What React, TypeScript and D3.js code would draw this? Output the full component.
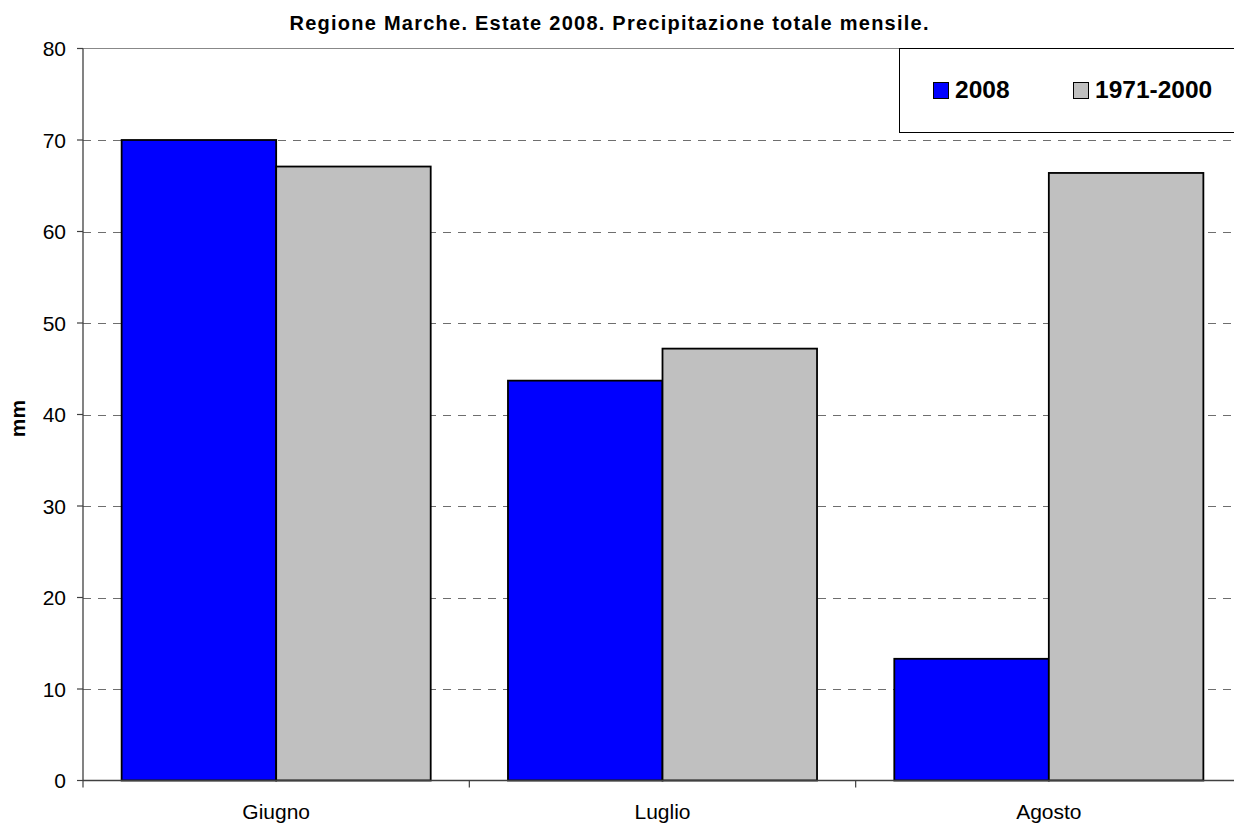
import React, { useEffect, useRef } from "react";
import * as d3 from "d3";

const months = ["Giugno", "Luglio", "Agosto"];
const series = ["2008", "1971-2000"];
const rain2008 = [70.0, 43.7, 13.3];
const rainNormal = [67.1, 47.2, 66.4];
const yTicks = [0, 10, 20, 30, 40, 50, 60, 70, 80];
const colors = ["#0000ff", "#c0c0c0"];

const W = 1234;
const H = 825;
const left = 83;
const right = 1242;
const top = 48.5;
const bottom = 780.5;
const font = "'Liberation Sans', Arial, sans-serif";

const App = () => {
  const ref = useRef(null);

  useEffect(() => {
    const g = d3.select(ref.current);
    g.selectAll("*").remove();

    const x = d3.scaleBand().domain(months).range([left, right]).padding(0);
    const xs = d3
      .scaleBand()
      .domain(series)
      .range([0, x.bandwidth()])
      .paddingInner(0)
      .paddingOuter(0.25);
    const y = d3.scaleLinear().domain([0, 80]).range([bottom, top]);

    // gridlines
    g.selectAll("line.grid")
      .data(yTicks.filter(d => d > 0 && d < 80))
      .enter()
      .append("line")
      .attr("class", "grid")
      .attr("x1", left)
      .attr("x2", right)
      .attr("y1", d => Math.round(y(d)) + 0.5)
      .attr("y2", d => Math.round(y(d)) + 0.5)
      .attr("stroke", "#6e6e6e")
      .attr("stroke-dasharray", "8,7");

    // top border of the plot area
    g.append("line")
      .attr("x1", left)
      .attr("x2", right)
      .attr("y1", y(80))
      .attr("y2", y(80))
      .attr("stroke", "#888")
      .attr("stroke-width", 1.2);

    // bars
    const rows = months.map((m, i) => ({ month: m, values: [rain2008[i], rainNormal[i]] }));
    const groups = g
      .selectAll("g.month")
      .data(rows)
      .enter()
      .append("g")
      .attr("class", "month")
      .attr("transform", d => `translate(${x(d.month)},0)`);

    groups
      .selectAll("rect")
      .data(d => d.values.map((v, i) => ({ key: series[i], value: v, i })))
      .enter()
      .append("rect")
      .attr("x", d => xs(d.key))
      .attr("width", xs.bandwidth())
      .attr("y", d => y(d.value))
      .attr("height", d => y(0) - y(d.value))
      .attr("fill", d => colors[d.i])
      .attr("stroke", "#000")
      .attr("stroke-width", 1.8);

    // y axis
    g.append("line")
      .attr("x1", left)
      .attr("x2", left)
      .attr("y1", top)
      .attr("y2", bottom)
      .attr("stroke", "#404040")
      .attr("stroke-width", 1.3);

    g.selectAll("line.ytick")
      .data(yTicks)
      .enter()
      .append("line")
      .attr("class", "ytick")
      .attr("x1", left - 6)
      .attr("x2", left)
      .attr("y1", d => y(d))
      .attr("y2", d => y(d))
      .attr("stroke", "#404040")
      .attr("stroke-width", 1.2);

    g.selectAll("text.ylab")
      .data(yTicks)
      .enter()
      .append("text")
      .attr("class", "ylab")
      .attr("x", 66)
      .attr("y", d => y(d) + 7.5)
      .attr("text-anchor", "end")
      .style("font-family", font)
      .style("font-size", "21px")
      .style("fill", "#000")
      .text(d => d);

    // x axis
    g.append("line")
      .attr("x1", left)
      .attr("x2", right)
      .attr("y1", bottom)
      .attr("y2", bottom)
      .attr("stroke", "#404040")
      .attr("stroke-width", 1.3);

    const bounds = months.map(m => x(m)).concat([right]);
    g.selectAll("line.xtick")
      .data(bounds)
      .enter()
      .append("line")
      .attr("class", "xtick")
      .attr("x1", d => d)
      .attr("x2", d => d)
      .attr("y1", bottom)
      .attr("y2", bottom + 7)
      .attr("stroke", "#404040")
      .attr("stroke-width", 1.2);

    g.selectAll("text.xlab")
      .data(months)
      .enter()
      .append("text")
      .attr("class", "xlab")
      .attr("x", d => x(d) + x.bandwidth() / 2)
      .attr("y", 819)
      .attr("text-anchor", "middle")
      .style("font-family", font)
      .style("font-size", "21px")
      .style("fill", "#000")
      .text(d => d);

    // axis title
    g.append("text")
      .attr("transform", "translate(25,418.5) rotate(-90)")
      .attr("text-anchor", "middle")
      .style("font-family", font)
      .style("font-size", "21px")
      .style("font-weight", "bold")
      .text("mm");

    // title
    g.append("text")
      .attr("x", 289.5)
      .attr("y", 30)
      .attr("textLength", 639)
      .attr("lengthAdjust", "spacing")
      .style("font-family", font)
      .style("font-size", "20px")
      .style("font-weight", "bold")
      .text("Regione Marche. Estate 2008. Precipitazione totale mensile.");

    // legend
    const leg = g.append("g");
    leg.append("rect")
      .attr("x", 899.5)
      .attr("y", 48.5)
      .attr("width", 360)
      .attr("height", 84)
      .attr("fill", "#fff")
      .attr("stroke", "#000")
      .attr("stroke-width", 1);

    const legX = [933, 1073];
    const items = leg
      .selectAll("g.item")
      .data(series)
      .enter()
      .append("g")
      .attr("class", "item")
      .attr("transform", (d, i) => `translate(${legX[i]},0)`);
    items.append("rect")
      .attr("x", 0.5)
      .attr("y", 82.5)
      .attr("width", 15)
      .attr("height", 16)
      .attr("fill", (d, i) => colors[i])
      .attr("stroke", "#000")
      .attr("stroke-width", 1);
    items.append("text")
      .attr("x", 22)
      .attr("y", 97.5)
      .style("font-family", font)
      .style("font-size", "24.5px")
      .style("font-weight", "bold")
      .text(d => d);
  }, []);

  return (
    <svg
      width={W}
      height={H}
      style={{ position: "absolute", left: 0, top: 0, background: "#fff" }}
    >
      <g ref={ref} />
    </svg>
  );
};

export default App;
